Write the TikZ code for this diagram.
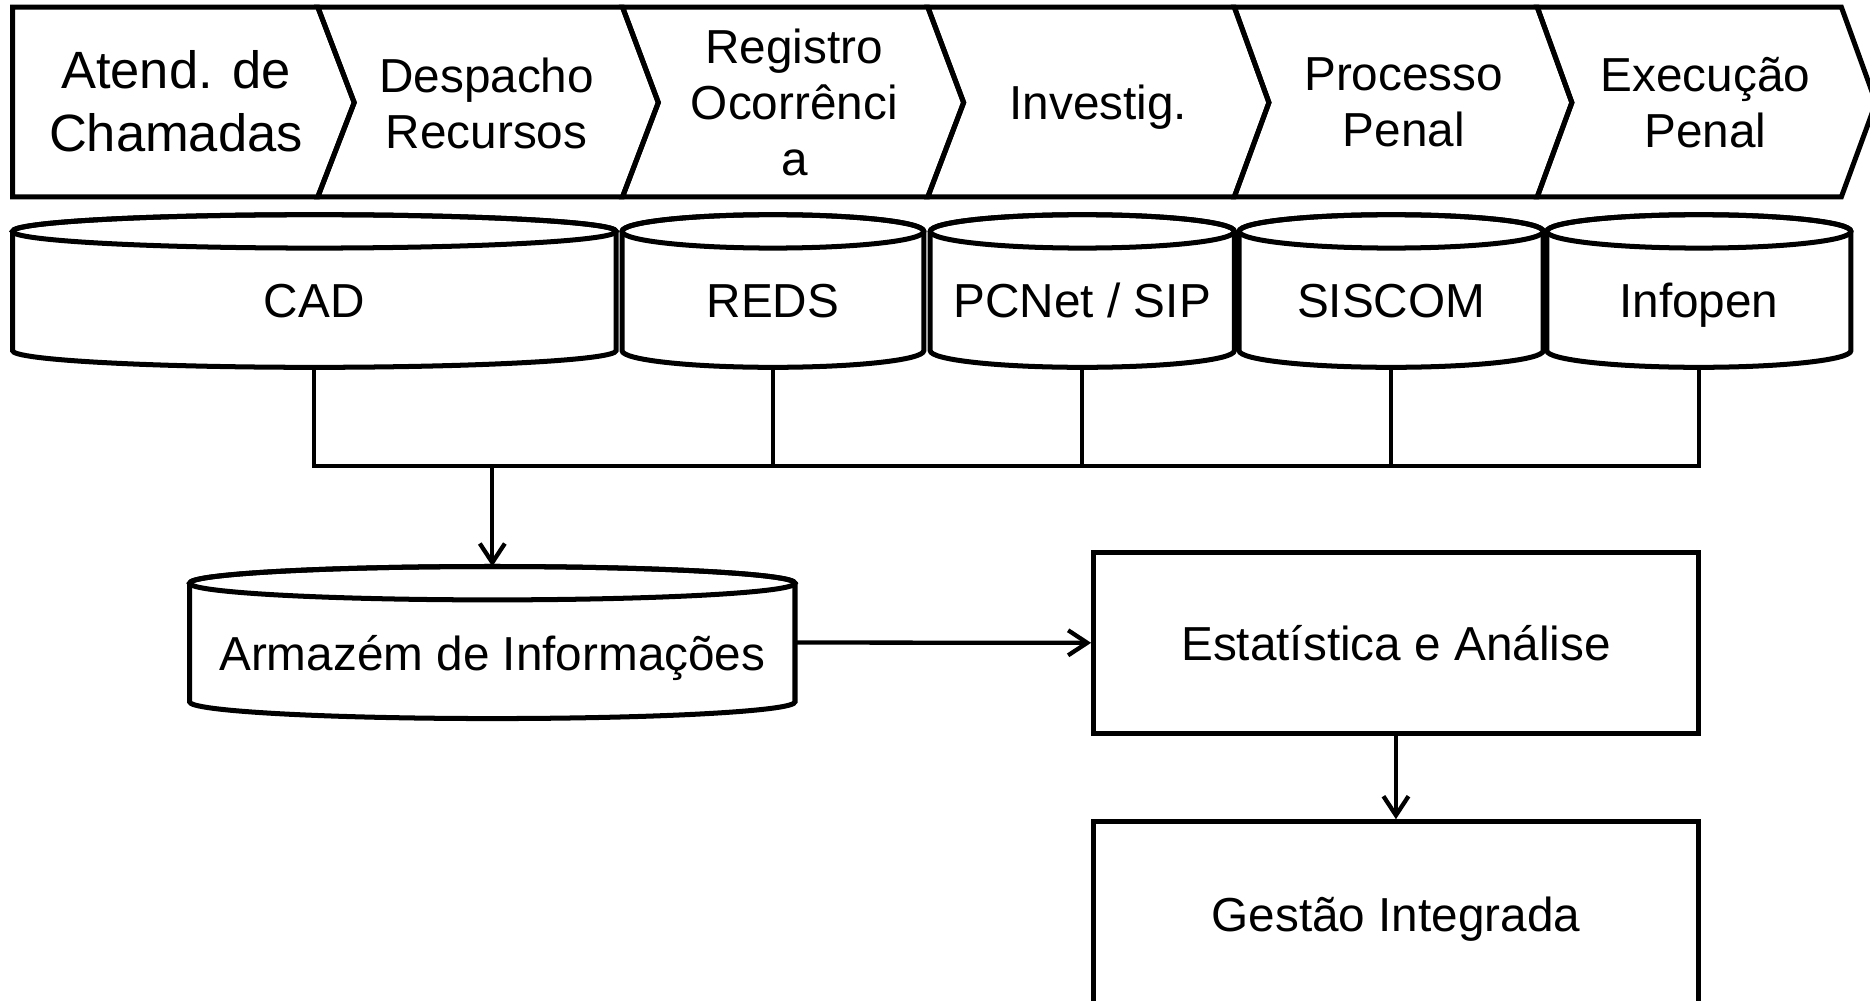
\documentclass[tikz,border=0pt]{standalone}
\usepackage{fontspec}
\setmainfont{Liberation Sans}
\usetikzlibrary{arrows.meta}
\tikzset{
  shp/.style={line width=4.2pt, line join=miter},
  conn/.style={line width=3.6pt},
  arr/.style={conn, -{Straight Barb[length=16pt,width=21pt,line width=3.6pt]}},
  stage/.style={font=\fontsize{40}{47}\selectfont, align=center, inner sep=0pt},
  dblabel/.style={font=\fontsize{40}{47}\selectfont, inner sep=0pt, anchor=base},
  geo/.style={inner sep=0pt, outer sep=0pt, rectangle},
  box/.style={draw, shp, rectangle, inner sep=0pt, font=\fontsize{40}{47}\selectfont,
    text height=28.8pt, text depth=0pt, minimum width=507pt},
}
% #1 left x, #2 right x, #3 top-ellipse centre y, #4 bottom-ellipse centre y
\newcommand\dbcyl[4]{%
  \filldraw[shp, fill=white] (#1,#3) -- (#1,#4)
    arc[start angle=180, end angle=0, x radius={(#2-#1)/2}, y radius=14]
    -- (#2,#3)
    arc[start angle=0, end angle=-180, x radius={(#2-#1)/2}, y radius=14] -- cycle;
  \draw[shp] ({(#1+#2)/2},#3) ellipse[x radius={(#2-#1)/2}, y radius=14];
}
\begin{document}
\begin{tikzpicture}[x=1pt, y=-1pt]
\useasboundingbox (0,0) rectangle (1568,839);

% process chevrons
\draw[shp] (10.5,6) -- (266.5,6) -- (297,86) -- (266.5,165) -- (10.5,165) -- cycle;
\draw[shp] (266.5,6) -- (522,6) -- (552,86) -- (522,165) -- (266.5,165) -- (297,86) -- cycle;
\draw[shp] (522,6) -- (778,6) -- (808,86) -- (778,165) -- (522,165) -- (552,86) -- cycle;
\draw[shp] (778,6) -- (1035,6) -- (1064,86) -- (1035,165) -- (778,165) -- (808,86) -- cycle;
\draw[shp] (1035,6) -- (1289,6) -- (1318,86) -- (1289,165) -- (1035,165) -- (1064,86) -- cycle;
\draw[shp] (1289,6) -- (1544,6) -- (1573,86) -- (1544,165) -- (1289,165) -- (1318,86) -- cycle;

\node[stage, font=\fontsize{44}{53}\selectfont] (s1) at (147.5,84.7) {Atend. de\\Chamadas};
\node[stage] (s2) at (408,86.6) {Despacho\\Recursos};
\node[stage] (s3) at (666,86.2) {Registro\\Ocorrênci\\a};
\node[stage, anchor=base] (s4) at (921,100.6) {Investig.};
\node[stage] (s5) at (1177,86) {Processo\\Penal};
\node[stage] (s6) at (1430,86) {Execução\\Penal};

% databases
\dbcyl{10.5}{516.6}{194}{294}
\dbcyl{521.6}{774.6}{194}{294}
\dbcyl{780}{1035}{194}{294}
\dbcyl{1039}{1294}{194}{294}
\dbcyl{1297}{1552}{194}{294}
\dbcyl{159}{666.6}{489}{588.5}

\node[geo, minimum width=506.1pt, minimum height=128pt] (cad) at (263.55,244) {};
\node[geo, minimum width=253pt, minimum height=128pt] (reds) at (648.1,244) {};
\node[geo, minimum width=255pt, minimum height=128pt] (pcnet) at (907.5,244) {};
\node[geo, minimum width=255pt, minimum height=128pt] (siscom) at (1166.5,244) {};
\node[geo, minimum width=255pt, minimum height=128pt] (infopen) at (1424.5,244) {};
\node[geo, minimum width=507.6pt, minimum height=127.5pt] (arm) at (412.8,538.75) {};

\node[dblabel] (cad-t) at (263.5,266) {CAD};
\node[dblabel] (reds-t) at (648.1,266) {REDS};
\node[dblabel] (pcnet-t) at (907.5,266) {PCNet / SIP};
\node[dblabel] (siscom-t) at (1166.5,266) {SISCOM};
\node[dblabel] (infopen-t) at (1424.5,266) {Infopen};
\node[dblabel] (arm-t) at (412.8,562) {Armazém de Informações};

% boxes
\node[box, minimum height=152pt] (est) at (1170.5,539) {Estatística e Análise};
\node[box, minimum height=156pt] (ges) at (1170.5,767) {Gestão Integrada};

% connectors
\coordinate (bus) at (0,391);
\draw[conn] (cad.south) -- (cad.south |- bus) -- (infopen.south |- bus) -- (infopen.south);
\foreach \n in {reds,pcnet,siscom} \draw[conn] (\n.south) -- (\n.south |- bus);
\draw[arr] (arm.north |- bus) -- (arm.north);
\draw[arr] (arm.east) -- (est.west);
\draw[arr] (est.south) -- (ges.north);
\end{tikzpicture}
\end{document}
